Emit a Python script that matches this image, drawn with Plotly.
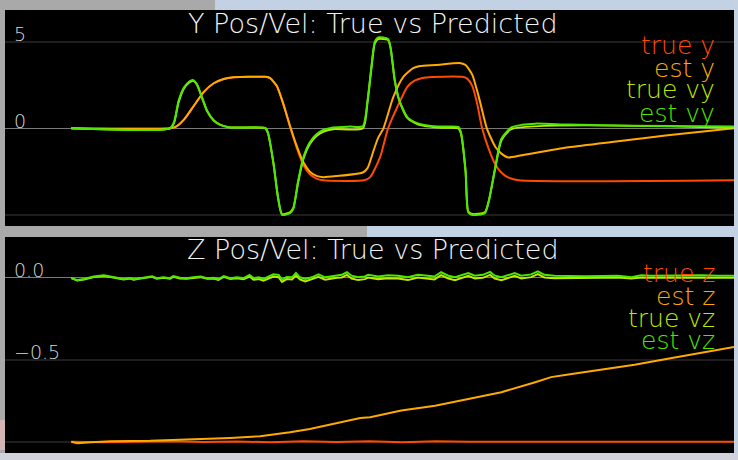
import plotly.graph_objects as go

# ---------------- data ----------------
# Top panel: Y position / velocity
true_y_t = [0, 1.49, 1.58, 1.7, 1.85, 2.0, 2.15, 2.3, 2.45, 2.93,
            3.0, 3.1, 3.2, 3.3, 3.4, 3.5, 3.6, 3.7, 3.8, 4.42,
            4.51, 4.66, 4.78, 4.92, 5.07, 5.18, 5.3, 5.45, 5.9, 5.97,
            6.05, 6.12, 6.2, 6.3, 6.4, 6.5, 6.6, 6.75, 10]
true_y = [0, 0, 0.1, 0.5, 1.3, 2.1, 2.6, 2.85, 2.95, 2.97,
          2.9, 2.45, 1.4, 0.1, -1.1, -2.1, -2.65, -2.9, -3.0, -3.0,
          -2.82, -1.66, 0.0, 1.23, 2.39, 2.75, 2.91, 2.96, 2.97, 2.88,
          2.45, 1.5, 0.0, -1.2, -2.1, -2.6, -2.85, -3.0, -3.0]

est_y_t = [0, 1.49, 1.58, 1.7, 1.85, 2.0, 2.15, 2.3, 2.45, 2.93,
           3.0, 3.1, 3.2, 3.3, 3.4, 3.5, 3.6, 3.7, 3.8, 4.0,
           4.4, 4.47, 4.56, 4.63, 4.71, 4.86, 5.01, 5.16, 5.26, 5.5,
           5.88, 5.95, 6.05, 6.15, 6.27, 6.4, 6.49, 6.59, 6.8, 7.5,
           8.25, 9.0, 10]
est_y = [0, 0, 0.1, 0.5, 1.3, 2.1, 2.6, 2.85, 2.95, 2.97,
         2.9, 2.45, 1.4, 0.15, -1.0, -1.95, -2.5, -2.75, -2.82, -2.76,
         -2.55, -2.3, -1.3, -0.55, 0.0, 1.81, 2.97, 3.47, 3.6, 3.66,
         3.76, 3.65, 3.1, 1.8, 0.0, -1.08, -1.46, -1.68, -1.55, -1.1,
         -0.75, -0.4, 0.0]

true_vy_t = [0, 1.49, 1.55, 1.62, 1.7, 1.78, 1.84, 1.9, 1.97, 2.05,
             2.15, 2.25, 2.4, 2.93, 2.97, 3.05, 3.12, 3.18, 3.3, 3.35,
             3.42, 3.5, 3.6, 3.7, 3.8, 3.95, 4.4, 4.47, 4.53, 4.58,
             4.63, 4.78, 4.82, 4.88, 4.95, 5.07, 5.22, 5.4, 5.6, 5.84,
             5.88, 5.95, 5.99, 6.05, 6.24, 6.3, 6.4, 6.49, 6.64, 10]
true_vy = [0, 0, 0.3, 1.5, 2.3, 2.65, 2.75, 2.5, 1.8, 1.0,
           0.45, 0.2, 0.05, 0.0, -0.3, -2.0, -4.0, -4.95, -4.85, -4.6,
           -3.2, -1.8, -0.9, -0.45, -0.2, -0.05, 0.0, 1.5, 3.5, 4.9,
           5.15, 5.1, 4.6, 2.8, 1.6, 0.6, 0.25, 0.1, 0.03, 0.0,
           -0.3, -2.5, -4.8, -4.95, -4.85, -4.2, -2.25, -0.7, -0.05, 0.02]

est_vy_t = [0, 1.49, 1.55, 1.62, 1.7, 1.78, 1.84, 1.9, 1.97, 2.05,
            2.15, 2.25, 2.4, 2.93, 2.97, 3.05, 3.12, 3.18, 3.3, 3.35,
            3.42, 3.5, 3.6, 3.7, 3.8, 3.95, 4.2, 4.4, 4.47, 4.53,
            4.58, 4.63, 4.78, 4.82, 4.88, 4.95, 5.07, 5.22, 5.4, 5.6,
            5.84, 5.88, 5.95, 5.99, 6.05, 6.24, 6.3, 6.4, 6.49, 6.64,
            6.8, 7.0, 7.5, 8.5, 10]
est_vy = [0, 0, 0.35, 1.6, 2.35, 2.7, 2.78, 2.5, 1.8, 1.0,
          0.45, 0.2, 0.05, 0.02, -0.3, -2.0, -4.0, -5.0, -4.9, -4.65,
          -3.1, -1.7, -0.8, -0.35, -0.1, 0.05, 0.1, 0.12, 1.6, 3.6,
          5.0, 5.25, 5.15, 4.6, 2.8, 1.6, 0.65, 0.3, 0.15, 0.1,
          0.08, -0.25, -2.5, -4.85, -5.0, -4.9, -4.2, -2.2, -0.6, 0.05,
          0.2, 0.27, 0.22, 0.15, 0.1]

# Bottom panel: Z position / velocity
true_z_t = [0, 0.5, 1, 1.5, 2, 2.5, 3, 3.5, 4, 4.5, 5, 5.5, 6, 6.5, 7, 8, 9, 10]
true_z = [-1.0, -1.004, -1.0, -0.998, -1.002, -0.999, -1.003, -0.998, -1.002,
          -0.997, -1.003, -0.998, -1.001, -0.999, -1.0, -1.0, -1.0, -1.0]

est_z_t = [0, 0.09, 0.3, 0.59, 1.19, 1.95, 2.4, 2.85, 3.3, 3.6, 4.06, 4.36, 4.51,
           4.98, 5.49, 5.99, 6.49, 7.0, 7.24, 7.5, 7.99, 8.5, 9.0, 9.5, 10]
est_z = [-1.0, -1.01, -1.003, -0.998, -0.995, -0.985, -0.977, -0.967, -0.943,
         -0.922, -0.882, -0.855, -0.851, -0.81, -0.78, -0.739, -0.698, -0.637,
         -0.606, -0.59, -0.561, -0.531, -0.494, -0.459, -0.4225]

vz_t = [0.00, 0.09, 0.19, 0.34, 0.49, 0.59, 0.69, 0.79, 0.89, 0.94,
        1.04, 1.14, 1.22, 1.29, 1.39, 1.49, 1.54, 1.64, 1.74, 1.84,
        1.95, 2.05, 2.15, 2.22, 2.30, 2.40, 2.50, 2.60, 2.69, 2.75,
        2.83, 2.90, 2.98, 3.05, 3.13, 3.18, 3.25, 3.33, 3.39, 3.45,
        3.53, 3.63, 3.73, 3.83, 3.91, 4.01, 4.08, 4.16, 4.23, 4.33,
        4.43, 4.48, 4.63, 4.78, 4.93, 5.08, 5.23, 5.38, 5.48, 5.58,
        5.69, 5.79, 5.89, 5.99, 6.09, 6.21, 6.32, 6.39, 6.49, 6.59,
        6.69, 6.79, 6.94, 7.04, 7.14, 7.29, 7.50, 7.75, 8.00, 8.25,
        8.45, 8.60, 8.75, 9.00, 9.26, 9.51, 9.76, 10.0]
est_vz = [-0.002, -0.014, -0.007, 0.008, 0.015, 0.008, 0.003, -0.007, -0.002, -0.009,
          -0.002, 0.005, 0.010, -0.002, 0.003, -0.002, 0.010, 0.000, -0.002, 0.003,
          0.008, -0.002, 0.000, -0.009, 0.011, -0.002, 0.003, -0.002, 0.018, -0.002,
          0.003, -0.007, 0.008, 0.021, 0.018, -0.012, 0.005, 0.003, 0.029, 0.003,
          -0.007, 0.003, 0.021, 0.003, 0.008, 0.015, 0.018, 0.034, 0.013, 0.003,
          0.008, 0.018, 0.008, 0.015, 0.013, 0.003, 0.018, 0.013, 0.008, 0.034,
          0.013, 0.003, 0.018, 0.029, 0.013, 0.018, 0.036, 0.013, 0.003, 0.018,
          0.029, 0.013, 0.021, 0.039, 0.018, 0.013, 0.010, 0.010, 0.011, 0.013,
          0.003, 0.015, 0.013, 0.015, 0.013, 0.015, 0.013, 0.013]
true_vz = [-0.002, -0.016, -0.01, 0.005, 0.012, 0.005, 0.0, -0.01, -0.005, -0.012,
           -0.005, 0.002, 0.006, -0.005, 0.0, -0.005, 0.006, -0.004, -0.006, -0.001,
           0.004, -0.006, -0.004, -0.013, 0.006, -0.007, -0.003, -0.008, 0.008, -0.012,
           -0.008, -0.017, -0.004, 0.008, 0.004, -0.025, -0.008, -0.01, 0.014, -0.01,
           -0.022, -0.01, 0.006, -0.012, -0.006, 0.0, 0.002, 0.018, -0.004, -0.014,
           -0.008, 0.002, -0.008, -0.002, -0.004, -0.014, 0.002, -0.004, -0.01, 0.016,
           -0.004, -0.014, 0.0, 0.012, -0.004, 0.0, 0.018, -0.004, -0.014, 0.0,
           0.012, -0.004, 0.004, 0.022, 0.002, -0.002, 0.0, 0.0, 0.001, 0.002,
           -0.004, 0.002, 0.0, 0.002, 0.0, 0.002, 0.0, 0.0]

titles = ["Y Pos/Vel: True vs Predicted", "Z Pos/Vel: True vs Predicted"]
names_top = ["true y", "est y", "true vy", "est vy"]
names_bot = ["true z", "est z", "true vz", "est vz"]
colors = ["#ff4a00", "#ffaa00", "#bfe800", "#4ce800"]

top_ticks = [-5, 0, 5]
top_ticktext = ["", "0", "5"]
bot_ticks = [-1.0, -0.5, 0.0]
bot_ticktext = ["", "\u22120.5", "0.0"]

# ---------------- figure ----------------
W, H = 738, 460
FONT = "'DejaVu Sans', sans-serif"
WEIGHT = 200

fig = go.Figure()
top_series = [(true_y_t, true_y), (est_y_t, est_y), (true_vy_t, true_vy), (est_vy_t, est_vy)]
for (tx, vy), nm, c in zip(top_series, names_top, colors):
    fig.add_trace(go.Scatter(x=tx, y=vy, name=nm, mode="lines",
                             line=dict(color=c, width=2, shape="spline", smoothing=0.6),
                             xaxis="x", yaxis="y", showlegend=False))

bot_series = [(true_z_t, true_z), (est_z_t, est_z), (vz_t, true_vz), (vz_t, est_vz)]
for (tx, vy), nm, c in zip(bot_series, names_bot, colors):
    fig.add_trace(go.Scatter(x=tx, y=vy, name=nm, mode="lines",
                             line=dict(color=c, width=2),
                             xaxis="x2", yaxis="y2", showlegend=False))

xdom = [5 / W, 734 / W]
top_dom = [(H - 226) / H, (H - 10) / H]
bot_dom = [(H - 453) / H, (H - 237) / H]

tickfont = dict(family=FONT, size=19, color="#d8d8d8", weight=WEIGHT)
axis_common = dict(showline=False, ticks="")
yax_common = dict(gridcolor="#1e1e1e", gridwidth=2, ticklabelposition="inside top",
                  ticklabelstandoff=6, ticklabelshift=6, zeroline=True,
                  zerolinecolor="#7a7a7a", zerolinewidth=1, tickfont=tickfont, **axis_common)
fig.update_layout(
    width=W, height=H,
    margin=dict(l=0, r=0, t=0, b=0),
    paper_bgcolor="#a9a9a9",
    plot_bgcolor="#000000",
    showlegend=False,
    xaxis=dict(domain=xdom, range=[-1, 10], showgrid=False, showticklabels=False,
               zeroline=False, **axis_common),
    xaxis2=dict(domain=xdom, range=[-1, 10], showgrid=False, showticklabels=False,
                zeroline=False, anchor="y2", **axis_common),
    yaxis=dict(domain=top_dom, range=[-5.64, 6.83], tickvals=top_ticks, ticktext=top_ticktext,
               anchor="x", **yax_common),
    yaxis2=dict(domain=bot_dom, range=[-1.069, 0.249], tickvals=bot_ticks, ticktext=bot_ticktext,
                anchor="x2", **yax_common),
)

# background decoration outside the plot areas (simulator scene)
bg_shapes = [
    dict(x0=215 / W, x1=1, y0=(H - 10) / H, y1=1, color="#c2d1e3"),
    dict(x0=734 / W, x1=1, y0=0, y1=1, color="#c4d2e2"),
    dict(x0=367 / W, x1=1, y0=(H - 237) / H, y1=(H - 226) / H, color="#c2d1e3"),
    dict(x0=0, x1=1, y0=0, y1=(H - 453) / H, color="#d2d2dc"),
    dict(x0=0, x1=5 / W, y0=(H - 450) / H, y1=(H - 420) / H, color="#d4b4b4"),
]
for s in bg_shapes:
    fig.add_shape(type="rect", xref="paper", yref="paper", x0=s["x0"], x1=s["x1"],
                  y0=s["y0"], y1=s["y1"], fillcolor=s["color"], line=dict(width=0), layer="below")

# titles
for ttl, yc in zip(titles, [(H - 23) / H, (H - 249) / H]):
    fig.add_annotation(text=ttl, xref="paper", yref="paper", x=373 / W, y=yc,
                       xanchor="center", yanchor="middle", showarrow=False,
                       font=dict(family=FONT, size=27, color="#f2f2f2", weight=WEIGHT))

# legend texts
leg_top_y = [46, 68, 90, 113]
leg_bot_y = [273, 297, 318, 340]
for names, ys in ((names_top, leg_top_y), (names_bot, leg_bot_y)):
    for nm, c, yy in zip(names, colors, ys):
        fig.add_annotation(text=nm, xref="paper", yref="paper", x=717 / W, y=(H - yy) / H,
                           xanchor="right", yanchor="middle", showarrow=False,
                           font=dict(family=FONT, size=25, color=c, weight=WEIGHT))

fig.write_html("out.html")
